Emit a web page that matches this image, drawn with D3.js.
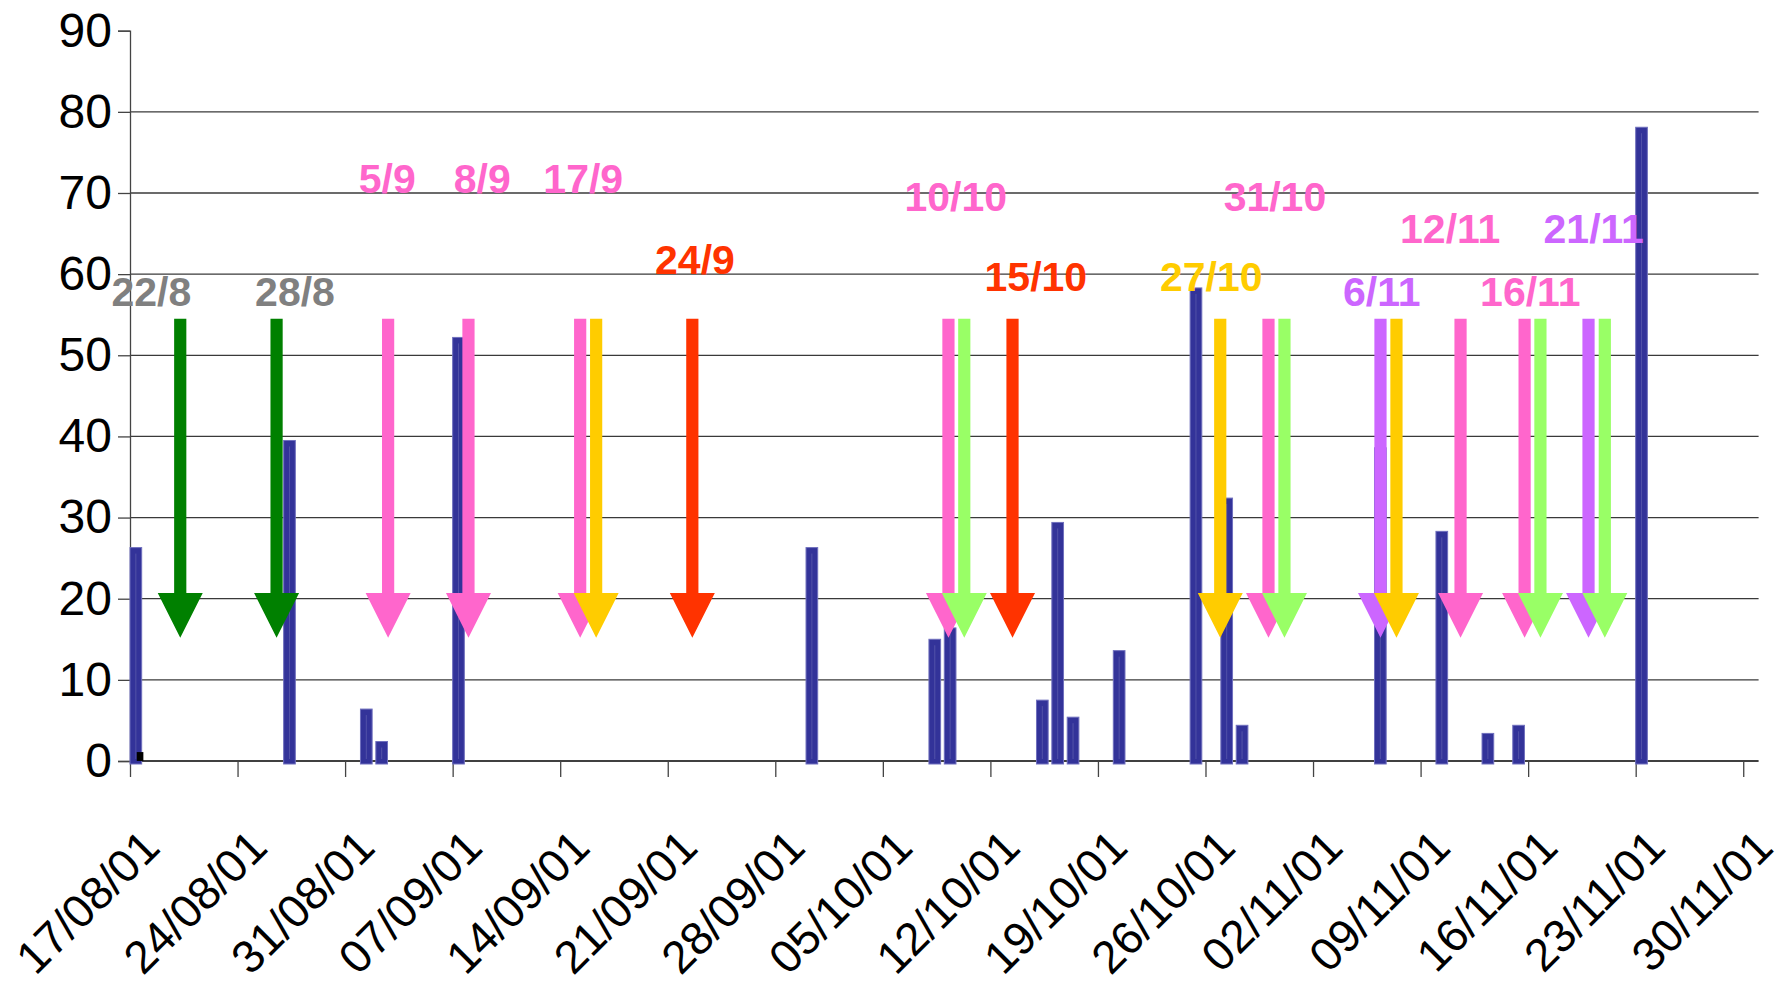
<!DOCTYPE html>
<html>
<head>
<meta charset="utf-8">
<script src="https://cdn.jsdelivr.net/npm/d3@7"></script>
<style>
  body { margin: 0; background: #fff; }
  svg { display: block; }
</style>
</head>
<body>
<div id="chart"></div>
<script>
// x axis is "days since 17/08/01"
const tickLabels = ["17/08/01", "24/08/01", "31/08/01", "07/09/01", "14/09/01", "21/09/01",
                    "28/09/01", "05/10/01", "12/10/01", "19/10/01", "26/10/01", "02/11/01",
                    "09/11/01", "16/11/01", "23/11/01", "30/11/01"];
const yTicks = [0, 10, 20, 30, 40, 50, 60, 70, 80, 90];

// main series (blue bars)
const barDays   = [0, 10, 15, 16, 21, 44, 52, 53, 59, 60, 61, 64, 69, 71, 72, 81, 85, 88, 90, 98];
const barValues = [26.3, 39.5, 6.4, 2.4, 52.2, 26.3, 15.0, 16.4, 7.5, 29.4, 5.4, 13.6,
                   58.3, 32.4, 4.4, 38.6, 28.3, 3.4, 4.4, 78.1];

// second series (tiny black bar)
const smallDays   = [0];
const smallValues = [1.1];

// event arrows
const arrowDays   = [3.27, 9.54, 16.8, 22.03, 29.3, 30.34, 36.6, 53.27, 54.3, 57.44,
                     70.96, 74.1, 75.14, 81.39, 82.43, 86.6, 90.77, 91.8, 94.93, 95.99];
const arrowColors = ["#008000", "#008000", "#ff66cc", "#ff66cc", "#ff66cc", "#ffcc00", "#ff3300",
                     "#ff66cc", "#99ff66", "#ff3300", "#ffcc00", "#ff66cc", "#99ff66", "#cc66ff",
                     "#ffcc00", "#ff66cc", "#ff66cc", "#99ff66", "#cc66ff", "#99ff66"];
const arrowTop = 54.5, arrowHeadBase = 20.7, arrowTip = 15.2;

// event labels
const labelTexts  = ["22/8", "28/8", "5/9", "8/9", "17/9", "24/9", "10/10", "15/10",
                     "27/10", "31/10", "6/11", "12/11", "16/11", "21/11"];
const labelDays   = [1.39, 10.74, 16.74, 22.93, 29.5, 36.77, 53.75, 58.96,
                     70.38, 74.52, 81.47, 85.93, 91.14, 95.27];
const labelValues = [56.05, 56.05, 69.95, 69.95, 69.95, 60.0, 67.8, 57.95,
                     57.95, 67.8, 56.05, 63.85, 56.05, 63.85];
const labelColors = ["#808080", "#808080", "#ff66cc", "#ff66cc", "#ff66cc", "#ff3300", "#ff66cc",
                     "#ff3300", "#ffcc00", "#ff66cc", "#cc66ff", "#ff66cc", "#ff66cc", "#cc66ff"];

const width = 1789, height = 989;
const margin = { left: 130, top: 30.7, bottom: 761, right: 1758.6 };

const svg = d3.select("#chart").append("svg")
    .attr("width", width)
    .attr("height", height);

const x = d3.scaleLinear().domain([0, 106]).range([margin.left, margin.right]);
const y = d3.scaleLinear().domain([0, 90]).range([margin.bottom, margin.top]);
const dw = x(1) - x(0);
const font = "'Liberation Sans', Arial, sans-serif";

// gridlines
svg.append("g")
   .selectAll("line")
   .data(yTicks.filter(d => d > 0 && d < 90))
   .enter().append("line")
   .attr("x1", x(0)).attr("x2", margin.right)
   .attr("y1", d => y(d)).attr("y2", d => y(d))
   .attr("stroke", "#3a3a3a").attr("stroke-width", 1.3);

// y axis
const yAxis = d3.axisLeft(y).tickValues(yTicks).tickSize(12).tickPadding(6);
const gy = svg.append("g").attr("transform", `translate(${x(0)},0)`).call(yAxis);
gy.select(".domain").attr("stroke", "#444").attr("stroke-width", 1.3);
gy.selectAll(".tick line").attr("stroke", "#444").attr("stroke-width", 1.3);
gy.selectAll(".tick text")
  .style("font-family", font).style("font-size", "48px").attr("fill", "#000");

// x axis
const xTickVals = tickLabels.map((d, i) => i * 7);
const xAxis = d3.axisBottom(x).tickValues(xTickVals).tickSize(16).tickFormat("");
const gx = svg.append("g").attr("transform", `translate(0,${y(0)})`).call(xAxis);
gx.select(".domain").attr("d", `M${x(0)},0H${margin.right}`).attr("stroke", "#000").attr("stroke-width", 1.5);
gx.selectAll(".tick line").attr("stroke", "#444").attr("stroke-width", 1.3);

svg.append("g")
   .selectAll("text")
   .data(tickLabels)
   .enter().append("text")
   .attr("transform", (d, i) => `translate(${x(xTickVals[i]) + 32},${850}) rotate(-45)`)
   .attr("text-anchor", "end")
   .style("font-family", font)
   .style("font-size", "46px")
   .attr("fill", "#000")
   .text(d => d);

// blue bars
const barW = dw * 0.76;
const bars = svg.append("g");
bars.selectAll("rect")
    .data(barDays)
    .enter().append("rect")
    .attr("x", d => x(d))
    .attr("y", (d, i) => y(barValues[i]))
    .attr("width", barW)
    .attr("height", (d, i) => y(0) - y(barValues[i]) + 3)
    .attr("fill", "#333399")
    .attr("stroke", "#6f6fbd")
    .attr("stroke-width", 1);
bars.selectAll("line")
    .data(barDays)
    .enter().append("line")
    .attr("x1", d => x(d) + barW / 2).attr("x2", d => x(d) + barW / 2)
    .attr("y1", (d, i) => y(barValues[i]) + 6)
    .attr("y2", y(0) - 2)
    .attr("stroke", "#5252a8").attr("stroke-width", 1);

// tiny black bar
svg.append("g")
   .selectAll("rect")
   .data(smallDays)
   .enter().append("rect")
   .attr("x", d => x(d) + dw * 0.44)
   .attr("y", (d, i) => y(smallValues[i]))
   .attr("width", dw * 0.43)
   .attr("height", (d, i) => y(0) - y(smallValues[i]))
   .attr("fill", "#000");

// arrows
const shaftHalf = 6.1, headHalf = 22.5;
svg.append("g")
   .selectAll("path")
   .data(arrowDays)
   .enter().append("path")
   .attr("d", d => {
       const cx = x(d);
       const t = y(arrowTop), b = y(arrowHeadBase), tip = y(arrowTip);
       return `M${cx - shaftHalf},${t}H${cx + shaftHalf}V${b}H${cx + headHalf}L${cx},${tip}L${cx - headHalf},${b}H${cx - shaftHalf}Z`;
   })
   .attr("fill", (d, i) => arrowColors[i]);

// labels
svg.append("g")
   .selectAll("text")
   .data(labelTexts)
   .enter().append("text")
   .attr("x", (d, i) => x(labelDays[i]))
   .attr("y", (d, i) => y(labelValues[i]))
   .attr("text-anchor", "middle")
   .style("font-family", font)
   .style("font-size", "41px")
   .style("font-weight", "bold")
   .attr("fill", (d, i) => labelColors[i])
   .text(d => d);
</script>
</body>
</html>
